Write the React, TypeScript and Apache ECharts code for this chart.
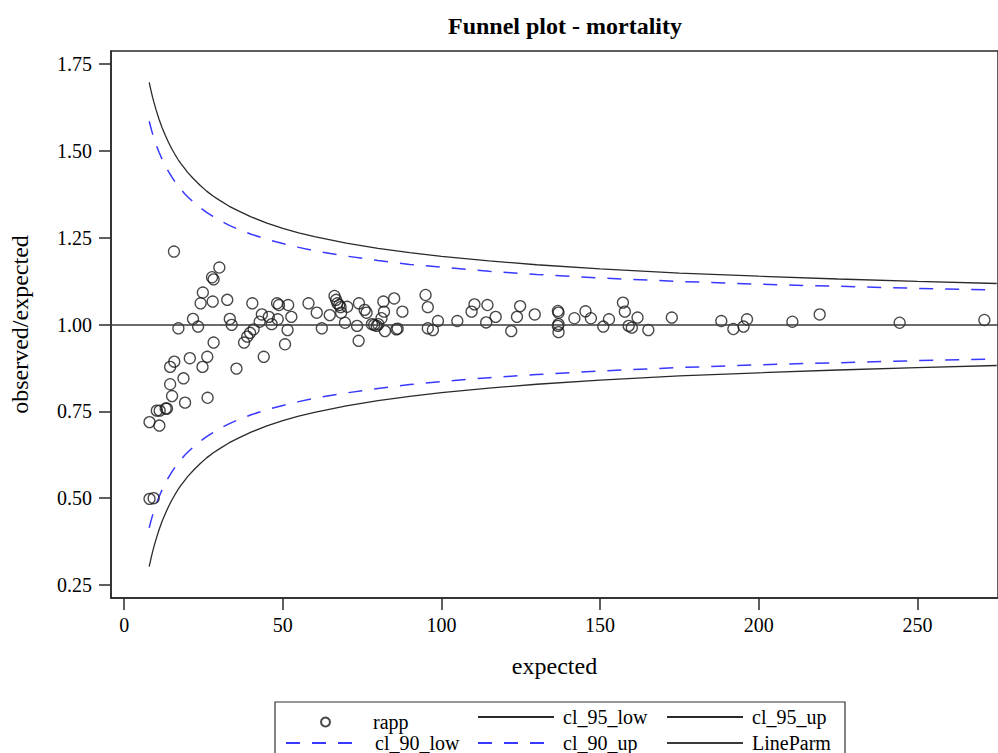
import React, { useEffect, useRef } from "react";
import * as echarts from "echarts";

// ---- data ----
const expected = [
  15.7, 30.0, 27.7, 28.2, 24.8, 24.1, 27.9, 32.5, 40.4, 48.2,
  48.8, 51.7, 52.7, 21.7, 17.1, 23.3, 33.3, 33.9, 43.4, 45.6,
  48.4, 46.5, 42.7, 40.8, 39.7, 38.8, 51.5, 28.2, 37.8, 50.7,
  20.7, 26.2, 24.7, 15.8, 14.5, 44.0, 35.4, 18.7, 14.5, 15.1,
  19.2, 26.3, 10.3, 11.2, 13.1, 13.5, 8.0, 11.1, 8.0, 9.3,
  58.1, 60.7, 62.3, 64.8, 66.3, 66.8, 67.2, 67.8, 68.2, 70.3,
  68.4, 69.6, 73.4, 74.0, 75.8, 76.4, 73.9, 78.1, 78.8, 79.6,
  80.1, 81.1, 81.9, 81.7, 82.2, 85.1, 87.7, 85.8, 86.2, 95.0,
  95.7, 95.7, 97.3, 98.9, 105.0, 110.4, 109.5, 114.5, 114.1, 117.1,
  122.0, 123.8, 124.8, 129.4, 136.7, 136.9, 136.9, 136.7, 136.9, 141.9,
  145.4, 147.1, 151.0, 152.8, 157.2, 157.8, 159.0, 160.0, 161.8, 165.2,
  172.6, 188.2, 192.0, 195.2, 196.3, 210.6, 219.2, 244.4, 271.1,
];
const rapp = [
  1.210, 1.164, 1.136, 1.130, 1.092, 1.061, 1.066, 1.071, 1.061, 1.061,
  1.056, 1.056, 1.022, 1.016, 0.989, 0.994, 1.016, 0.999, 1.029, 1.022,
  1.015, 1.001, 1.008, 0.986, 0.976, 0.965, 0.984, 0.948, 0.948, 0.943,
  0.903, 0.907, 0.878, 0.893, 0.878, 0.907, 0.873, 0.845, 0.828, 0.794,
  0.775, 0.789, 0.752, 0.752, 0.758, 0.758, 0.719, 0.709, 0.498, 0.500,
  1.061, 1.034, 0.989, 1.027, 1.082, 1.071, 1.061, 1.056, 1.050, 1.051,
  1.034, 1.005, 0.996, 1.061, 1.042, 1.034, 0.953, 1.001, 0.999, 0.996,
  1.001, 1.018, 1.037, 1.066, 0.981, 1.075, 1.037, 0.986, 0.988, 1.085,
  1.050, 0.989, 0.984, 1.010, 1.010, 1.058, 1.037, 1.056, 1.006, 1.022,
  0.981, 1.022, 1.053, 1.029, 1.039, 1.034, 1.001, 0.996, 0.978, 1.018,
  1.038, 1.018, 0.994, 1.015, 1.063, 1.037, 0.996, 0.991, 1.020, 0.984,
  1.020, 1.010, 0.987, 0.994, 1.015, 1.008, 1.029, 1.005, 1.013,
];

const limitExpected = [
  7.9, 8.5, 9, 9.5, 10, 11, 12, 13, 14, 15, 16, 17, 18, 19, 20, 22, 24, 26, 28,
  30, 33, 36, 40, 45, 50, 55, 60, 70, 80, 90, 100, 115, 130, 150, 175, 200, 225,
  250, 275,
];
const cl95Up = [
  1.697, 1.672, 1.653, 1.636, 1.620, 1.591, 1.566, 1.544, 1.524, 1.506, 1.490,
  1.475, 1.462, 1.450, 1.438, 1.418, 1.400, 1.384, 1.370, 1.358, 1.341, 1.327,
  1.310, 1.292, 1.277, 1.264, 1.253, 1.234, 1.219, 1.207, 1.196, 1.183, 1.172,
  1.160, 1.148, 1.139, 1.131, 1.124, 1.118,
];
const cl95Low = [
  0.303, 0.328, 0.347, 0.364, 0.380, 0.409, 0.434, 0.456, 0.476, 0.494, 0.510,
  0.525, 0.538, 0.550, 0.562, 0.582, 0.600, 0.616, 0.630, 0.642, 0.659, 0.673,
  0.690, 0.708, 0.723, 0.736, 0.747, 0.766, 0.781, 0.793, 0.804, 0.817, 0.828,
  0.840, 0.852, 0.861, 0.869, 0.876, 0.882,
];
const cl90Up = [
  1.585, 1.564, 1.548, 1.534, 1.520, 1.496, 1.475, 1.456, 1.440, 1.425, 1.411,
  1.399, 1.388, 1.377, 1.368, 1.351, 1.336, 1.323, 1.311, 1.300, 1.286, 1.274,
  1.260, 1.245, 1.233, 1.222, 1.212, 1.197, 1.184, 1.173, 1.165, 1.153, 1.144,
  1.134, 1.124, 1.116, 1.110, 1.104, 1.099,
];
const cl90Low = [
  0.415, 0.436, 0.452, 0.466, 0.480, 0.504, 0.525, 0.544, 0.560, 0.575, 0.589,
  0.601, 0.612, 0.623, 0.632, 0.649, 0.664, 0.677, 0.689, 0.700, 0.714, 0.726,
  0.740, 0.755, 0.767, 0.778, 0.788, 0.803, 0.816, 0.827, 0.836, 0.847, 0.856,
  0.866, 0.876, 0.884, 0.890, 0.896, 0.901,
];
const lineParm = 1.0;

const xTicks = [0, 50, 100, 150, 200, 250];
const yTicks = [0.25, 0.5, 0.75, 1.0, 1.25, 1.5, 1.75];

const SERIF = "'Liberation Serif', 'Times New Roman', serif";
const DARK = "#2a2a2a";
const BLUE = "#3838ff";

export default function App() {
  const ref = useRef<HTMLDivElement>(null);

  useEffect(() => {
    if (!ref.current) return;
    const chart = echarts.init(ref.current, null, { renderer: "svg" });

    const pair = (xs: number[], ys: number[]) => xs.map((x, i) => [x, ys[i]]);
    const lineSeries = (name: string, ys: number[], color: string, dashed: boolean) => ({
      name,
      type: "line",
      data: pair(limitExpected, ys),
      symbol: "none",
      smooth: false,
      silent: true,
      lineStyle: {
        color,
        width: dashed ? 1.5 : 1.3,
        type: dashed ? [14, 12] : "solid",
      },
      itemStyle: { color },
      emphasis: { disabled: true },
      z: 2,
    });

    const legendText = { fontFamily: SERIF, fontSize: 20, color: "#000" };
    const mkLegend = (
      name: string,
      left: number,
      top: number,
      w: number,
      h: number,
      pad: number,
      hideSymbol: boolean
    ) => ({
      data: [hideSymbol ? { name, itemStyle: { opacity: 0 } } : { name }],
      left,
      top,
      padding: 0,
      itemWidth: w,
      itemHeight: h,
      selectedMode: false,
      textStyle: { ...legendText, padding: [0, 0, 0, pad] },
    });

    const option = {
      animation: false,
      backgroundColor: "#ffffff",
      title: {
        text: "Funnel plot - mortality",
        left: 560,
        top: 9,
        textAlign: "center",
        textStyle: { fontFamily: SERIF, fontSize: 24, fontWeight: "bold", color: "#000" },
      },
      grid: {
        left: 111,
        top: 51,
        right: -11,
        bottom: 155,
        show: true,
        borderColor: DARK,
        borderWidth: 1.5,
        backgroundColor: "transparent",
      },
      xAxis: {
        type: "value",
        min: -4.14,
        max: 275.4,
        name: "expected",
        nameLocation: "middle",
        nameGap: 56,
        nameTextStyle: { fontFamily: SERIF, fontSize: 24, color: "#000" },
        axisLine: { show: true, onZero: false, lineStyle: { color: DARK, width: 1.5 } },
        axisTick: { show: true, length: 12, customValues: xTicks, lineStyle: { color: DARK, width: 1.5 } },
        axisLabel: {
          customValues: xTicks,
          margin: 17,
          fontFamily: SERIF,
          fontSize: 20,
          color: "#000",
        },
        splitLine: { show: false },
      },
      yAxis: {
        type: "value",
        min: 0.2126,
        max: 1.7874,
        name: "observed/expected",
        nameLocation: "middle",
        nameGap: 79,
        nameTextStyle: { fontFamily: SERIF, fontSize: 24, color: "#000" },
        axisLine: { show: true, onZero: false, lineStyle: { color: DARK, width: 1.5 } },
        axisTick: { show: true, length: 12, customValues: yTicks, lineStyle: { color: DARK, width: 1.5 } },
        axisLabel: {
          customValues: yTicks,
          margin: 19,
          fontFamily: SERIF,
          fontSize: 20,
          color: "#000",
          formatter: (v: number) => v.toFixed(2),
        },
        splitLine: { show: false },
      },
      legend: [
        mkLegend("rapp", 320, 712, 9, 9, 38, false),
        mkLegend("cl_90_low", 285, 733, 67, 14, 17, true),
        mkLegend("cl_95_low", 477, 707, 76, 14, 4, true),
        mkLegend("cl_90_up", 477, 733, 76, 14, 4, true),
        mkLegend("cl_95_up", 666, 707, 76, 14, 4, true),
        mkLegend("LineParm", 666, 733, 76, 14, 4, true),
      ],
      graphic: [
        {
          type: "rect",
          shape: { x: 275, y: 702, width: 570, height: 70 },
          style: { fill: "none", stroke: "#333", lineWidth: 1.2 },
          silent: true,
        },
      ],
      series: [
        {
          name: "rapp",
          type: "scatter",
          data: pair(expected, rapp),
          symbol: "circle",
          symbolSize: 11,
          silent: true,
          itemStyle: { color: "rgba(0,0,0,0)", borderColor: "#1a1a1a", borderWidth: 1.3 },
          emphasis: { disabled: true },
          z: 3,
        },
        lineSeries("cl_95_low", cl95Low, DARK, false),
        lineSeries("cl_95_up", cl95Up, DARK, false),
        lineSeries("cl_90_low", cl90Low, BLUE, true),
        lineSeries("cl_90_up", cl90Up, BLUE, true),
        {
          name: "LineParm",
          type: "line",
          data: [],
          symbol: "none",
          silent: true,
          lineStyle: { color: "#3a3a3a", width: 1.6 },
          itemStyle: { color: "#3a3a3a" },
          markLine: {
            silent: true,
            symbol: ["none", "none"],
            label: { show: false },
            lineStyle: { color: "#3a3a3a", width: 1.6, type: "solid" },
            data: [{ yAxis: lineParm }],
          },
          z: 1,
        },
      ],
    };

    chart.setOption(option as any);
    return () => chart.dispose();
  }, []);

  return (
    <div
      ref={ref}
      style={{ position: "fixed", left: 0, top: 0, width: 998, height: 753, background: "#fff" }}
    />
  );
}
